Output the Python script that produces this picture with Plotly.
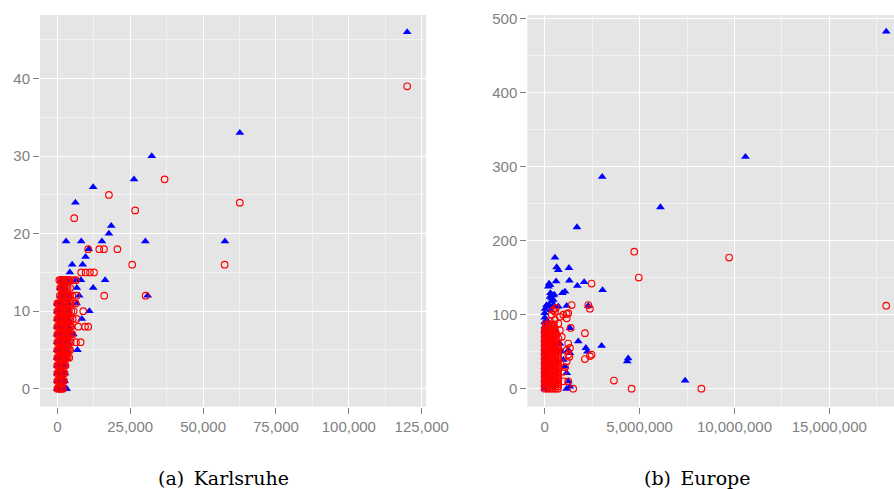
import plotly.graph_objects as go

# ---------------- data: Karlsruhe (left) ----------------
KA_BLUE = [
    (0, 0), (0, 1), (0, 2), (0, 3), (0, 4), (0, 5), (0, 6), (0, 7), (0, 8), (0, 9), (0, 10), (0, 11),
    (1000, 0), (2700, 0), (3200, 0),
    (800, 1), (1800, 1), (2500, 1),
    (1500, 2), (2600, 2),
    (1200, 3), (2700, 3),
    (1500, 4), (3000, 4),
    (1600, 5), (3300, 5), (6900, 5),
    (1400, 6), (3500, 6),
    (1800, 7), (3400, 7), (4600, 7), (5500, 7),
    (1500, 8), (3800, 8),
    (1300, 9), (3600, 9), (8400, 9),
    (1200, 10), (3800, 10), (11000, 10),
    (900, 11), (3800, 11), (6600, 11),
    (1200, 12), (2500, 12), (3800, 12), (7500, 12), (31000, 12),
    (1000, 13), (2400, 13), (6700, 13), (12300, 13),
    (1500, 14), (1900, 14), (3500, 14), (6400, 14), (8100, 14), (16400, 14),
    (4300, 15), (5100, 16), (8700, 16), (9700, 17), (10800, 18),
    (3000, 19), (8200, 19), (15300, 19), (30200, 19), (57500, 19),
    (17700, 20), (18500, 21), (6200, 24), (12300, 26), (26300, 27),
    (32400, 30), (62600, 33), (120000, 46),
]

KA_RED = [
    (0, 0), (400, 0), (800, 0), (1200, 0), (1600, 0), (2000, 0),
    (0, 1), (400, 1), (800, 1), (1200, 1), (1600, 1), (2000, 1), (2300, 1),
    (0, 2), (400, 2), (800, 2), (1200, 2), (1600, 2), (2000, 2), (2500, 2),
    (0, 3), (400, 3), (800, 3), (1200, 3), (1600, 3), (2000, 3), (2400, 3), (2800, 3),
    (0, 4), (400, 4), (800, 4), (1200, 4), (1600, 4), (2000, 4), (2400, 4), (2800, 4), (3200, 4), (3600, 4), (4100, 4),
    (0, 5), (400, 5), (800, 5), (1200, 5), (1600, 5), (2000, 5), (2400, 5), (2800, 5), (3200, 5), (3600, 5), (4000, 5), (4400, 5),
    (0, 6), (400, 6), (800, 6), (1200, 6), (1600, 6), (2000, 6), (2400, 6), (2800, 6), (3200, 6), (3600, 6), (4000, 6), (4600, 6), (6400, 6), (8000, 6),
    (0, 7), (400, 7), (800, 7), (1200, 7), (1600, 7), (2000, 7), (2400, 7), (2800, 7), (3200, 7), (3600, 7), (4000, 7), (4500, 7), (5200, 7),
    (0, 8), (400, 8), (800, 8), (1200, 8), (1600, 8), (2000, 8), (2400, 8), (2800, 8), (3200, 8), (3600, 8), (4000, 8), (4400, 8), (4800, 8), (7200, 8), (9500, 8), (10600, 8),
    (0, 9), (400, 9), (800, 9), (1200, 9), (1600, 9), (2000, 9), (2400, 9), (2800, 9), (3200, 9), (3600, 9), (4000, 9), (4500, 9), (5300, 9), (6600, 9),
    (0, 10), (400, 10), (800, 10), (1200, 10), (1600, 10), (2000, 10), (2400, 10), (2800, 10), (3200, 10), (3600, 10), (4000, 10), (4800, 10), (5600, 10), (8900, 10),
    (0, 11), (400, 11), (800, 11), (1200, 11), (1600, 11), (2000, 11), (2400, 11), (2800, 11), (3200, 11), (3700, 11), (4500, 11), (5300, 11), (6300, 11),
    (900, 12), (1400, 12), (1800, 12), (2200, 12), (2600, 12), (3000, 12), (3400, 12), (3800, 12), (4300, 12), (5200, 12), (6600, 12), (16100, 12), (30300, 12),
    (1000, 13), (1400, 13), (1800, 13), (2200, 13), (2600, 13), (3000, 13), (3500, 13), (4400, 13),
    (700, 14), (1200, 14), (1600, 14), (2000, 14), (2500, 14), (3000, 14), (3400, 14), (3800, 14), (4300, 14), (5500, 14), (6400, 14),
    (8200, 15), (9700, 15), (11200, 15), (12600, 15),
    (25700, 16), (57400, 16),
    (10600, 18), (14400, 18), (16000, 18), (20600, 18),
    (5800, 22), (26700, 23), (62600, 24), (17700, 25), (36800, 27), (120000, 39),
]

# ---------------- data: Europe (right) ----------------
EU_BLUE = [
    (0, 0), (0, 6), (0, 12), (0, 18), (0, 24), (0, 30), (0, 36), (0, 42), (0, 48), (0, 54),
    (0, 60), (0, 66), (0, 72), (0, 78), (0, 84), (0, 90), (0, 96), (0, 102),
    (100000, 93), (190000, 88), (20000, 108),
    (100000, 113), (210000, 113), (280000, 111), (320000, 106), (370000, 118), (450000, 113),
    (280000, 124), (420000, 126), (370000, 122), (450000, 120), (300000, 129), (500000, 127),
    (190000, 138), (280000, 140), (230000, 142), (600000, 145),
    (540000, 177), (630000, 164), (720000, 160),
    (930000, 129), (1070000, 131), (1280000, 163), (1300000, 146), (1720000, 139),
    (2080000, 144), (3050000, 133),
    (1700000, 218), (3030000, 286), (6100000, 245), (10580000, 313), (18000000, 482),
    (720000, 111), (1160000, 112), (2300000, 112), (1330000, 82), (1770000, 64),
    (2170000, 55), (2250000, 50), (3000000, 58), (1240000, 52), (1330000, 48),
    (4400000, 41), (4350000, 37), (7400000, 11),
    (800000, 61), (900000, 50), (980000, 39), (1070000, 30), (1160000, 21),
    (1240000, 10), (1330000, 3), (1160000, 0),
]

EU_RED = [
    (0, 0), (140000, 0), (280000, 0), (420000, 0), (560000, 0), (700000, 0),
    (0, 3), (140000, 3), (280000, 3), (420000, 3), (560000, 3), (700000, 3),
    (0, 6), (140000, 6), (280000, 6), (420000, 6), (560000, 6), (700000, 6),
    (0, 9), (140000, 9), (280000, 9), (420000, 9), (560000, 9), (700000, 9),
    (0, 12), (140000, 12), (280000, 12), (420000, 12), (560000, 12), (700000, 12),
    (0, 15), (140000, 15), (280000, 15), (420000, 15), (560000, 15), (700000, 15),
    (0, 18), (140000, 18), (280000, 18), (420000, 18), (560000, 18), (700000, 18),
    (0, 21), (140000, 21), (280000, 21), (420000, 21), (560000, 21), (700000, 21),
    (0, 24), (140000, 24), (280000, 24), (420000, 24), (560000, 24), (700000, 24),
    (0, 27), (140000, 27), (280000, 27), (420000, 27), (560000, 27), (700000, 27),
    (0, 30), (140000, 30), (280000, 30), (420000, 30), (560000, 30), (700000, 30),
    (0, 33), (140000, 33), (280000, 33), (420000, 33), (560000, 33), (700000, 33),
    (0, 36), (140000, 36), (280000, 36), (420000, 36), (560000, 36), (700000, 36),
    (0, 39), (140000, 39), (280000, 39), (420000, 39), (560000, 39), (700000, 39),
    (0, 42), (140000, 42), (280000, 42), (420000, 42), (560000, 42), (700000, 42),
    (0, 45), (140000, 45), (280000, 45), (420000, 45), (560000, 45), (700000, 45),
    (0, 48), (140000, 48), (280000, 48), (420000, 48), (560000, 48), (700000, 48),
    (0, 51), (140000, 51), (280000, 51), (420000, 51), (560000, 51), (700000, 51),
    (0, 54), (140000, 54), (280000, 54), (420000, 54), (560000, 54), (700000, 54),
    (0, 57), (140000, 57), (280000, 57), (420000, 57), (560000, 57), (700000, 57),
    (0, 60), (140000, 60), (280000, 60), (420000, 60), (560000, 60), (700000, 60),
    (0, 63), (140000, 63), (280000, 63), (420000, 63), (560000, 63),
    (0, 66), (140000, 66), (280000, 66), (420000, 66), (560000, 66),
    (0, 69), (140000, 69), (280000, 69), (420000, 69), (560000, 69),
    (0, 72), (140000, 72), (280000, 72), (420000, 72), (560000, 72),
    (0, 75), (140000, 75), (280000, 75), (420000, 75), (560000, 75),
    (0, 78), (140000, 78), (280000, 78), (420000, 78), (560000, 78),
    (50000, 81), (200000, 81), (350000, 81), (480000, 81),
    (50000, 84), (200000, 84), (350000, 84), (480000, 84),
    (50000, 87), (200000, 87), (350000, 87), (480000, 87),
    (590000, 109), (450000, 106), (370000, 100), (540000, 104), (800000, 97),
    (980000, 100), (1160000, 95), (1240000, 102), (1160000, 101), (1370000, 82),
    (1420000, 113), (2300000, 113), (2380000, 108), (2470000, 142), (4720000, 185),
    (9720000, 177), (4960000, 150), (18000000, 112), (2120000, 75), (1240000, 61),
    (1160000, 52), (1240000, 46), (1330000, 55), (2120000, 40), (2380000, 44),
    (2470000, 46), (1070000, 29), (980000, 23), (720000, 14), (980000, 10),
    (1240000, 10), (1500000, 0), (3650000, 11), (4580000, 0), (8260000, 0),
    (800000, 79), (630000, 73), (720000, 68), (900000, 70), (540000, 93),
    (280000, 91), (720000, 88), (1300000, 43), (1160000, 37),
]

KA_X_TICKS = [0, 25000, 50000, 75000, 100000, 125000]
KA_Y_TICKS = [0, 10, 20, 30, 40]
EU_X_TICKS = [0, 5000000, 10000000, 15000000]
EU_Y_TICKS = [0, 100, 200, 300, 400, 500]
CAPTIONS = ["(a)\u2002Karlsruhe", "(b)\u2002Europe"]

# ---------------- figure ----------------
W, H = 894, 489
BLUE = "#0000FF"
RED = "#FF0000"
GREY = "#7F7F7F"


def xs(pts):
    return [p[0] for p in pts]


def ys(pts):
    return [p[1] for p in pts]


tri = dict(symbol="triangle-up", size=7.7, color=BLUE, line=dict(width=0))
circ = dict(symbol="circle-open", size=6.6, color=RED, line=dict(width=1.15, color=RED))

fig = go.Figure()
fig.add_trace(go.Scatter(x=xs(KA_BLUE), y=ys(KA_BLUE), mode="markers", marker=tri, xaxis="x", yaxis="y"))
fig.add_trace(go.Scatter(x=xs(KA_RED), y=ys(KA_RED), mode="markers", marker=circ, xaxis="x", yaxis="y"))
fig.add_trace(go.Scatter(x=xs(EU_BLUE), y=ys(EU_BLUE), mode="markers", marker=tri, xaxis="x2", yaxis="y2"))
fig.add_trace(go.Scatter(x=xs(EU_RED), y=ys(EU_RED), mode="markers", marker=circ, xaxis="x2", yaxis="y2"))

tickfont = dict(family="Liberation Sans, Arial, sans-serif", size=15, color=GREY)
common = dict(
    showgrid=True, gridcolor="#FFFFFF", gridwidth=1.4,
    zeroline=False, showline=False, automargin=False,
    ticks="outside", ticklen=6, tickwidth=1, tickcolor=GREY,
    tickfont=tickfont, tickmode="array", fixedrange=True,
)

ydom = [(H - 406.7) / H, (H - 15) / H]

fig.update_layout(
    width=W, height=H, autosize=False,
    margin=dict(l=0, r=0, t=0, b=0, pad=0, autoexpand=False),
    paper_bgcolor="white", plot_bgcolor="#E5E5E5",
    showlegend=False,
    xaxis=dict(common, domain=[40 / W, 426 / W], range=[-5934, 126466], anchor="y",
               tickvals=KA_X_TICKS, tickformat=",d",
               minor=dict(dtick=12500, tick0=0, showgrid=True, gridcolor="#F2F2F2", gridwidth=0.8, ticks="")),
    yaxis=dict(common, domain=ydom, range=[-2.32, 48.2], anchor="x",
               tickvals=KA_Y_TICKS,
               minor=dict(dtick=5, tick0=0, showgrid=True, gridcolor="#F2F2F2", gridwidth=0.8, ticks="")),
    xaxis2=dict(common, domain=[527.3 / W, 1.0], range=[-917000, 18410000], anchor="y2",
                tickvals=EU_X_TICKS, tickformat=",d",
                minor=dict(dtick=2500000, tick0=0, showgrid=True, gridcolor="#F2F2F2", gridwidth=0.8, ticks="")),
    yaxis2=dict(common, domain=ydom, range=[-24.3, 504.5], anchor="x2",
                tickvals=EU_Y_TICKS,
                minor=dict(dtick=50, tick0=0, showgrid=True, gridcolor="#F2F2F2", gridwidth=0.8, ticks="")),
)

cap_font = dict(family="DejaVu Serif, serif", size=19, color="black")
fig.add_annotation(text=CAPTIONS[0], xref="paper", yref="paper", x=223 / W, y=1 - 478 / H,
                   xanchor="center", yanchor="middle", showarrow=False, font=cap_font)
fig.add_annotation(text=CAPTIONS[1], xref="paper", yref="paper", x=697 / W, y=1 - 478 / H,
                   xanchor="center", yanchor="middle", showarrow=False, font=cap_font)

post = (
    "document.documentElement.style.margin='0';"
    "document.documentElement.style.overflow='hidden';"
    "document.body.style.margin='0';"
    "document.body.style.overflow='hidden';"
)
fig.write_html("out.html", config={"displayModeBar": False, "responsive": False}, post_script=post)
